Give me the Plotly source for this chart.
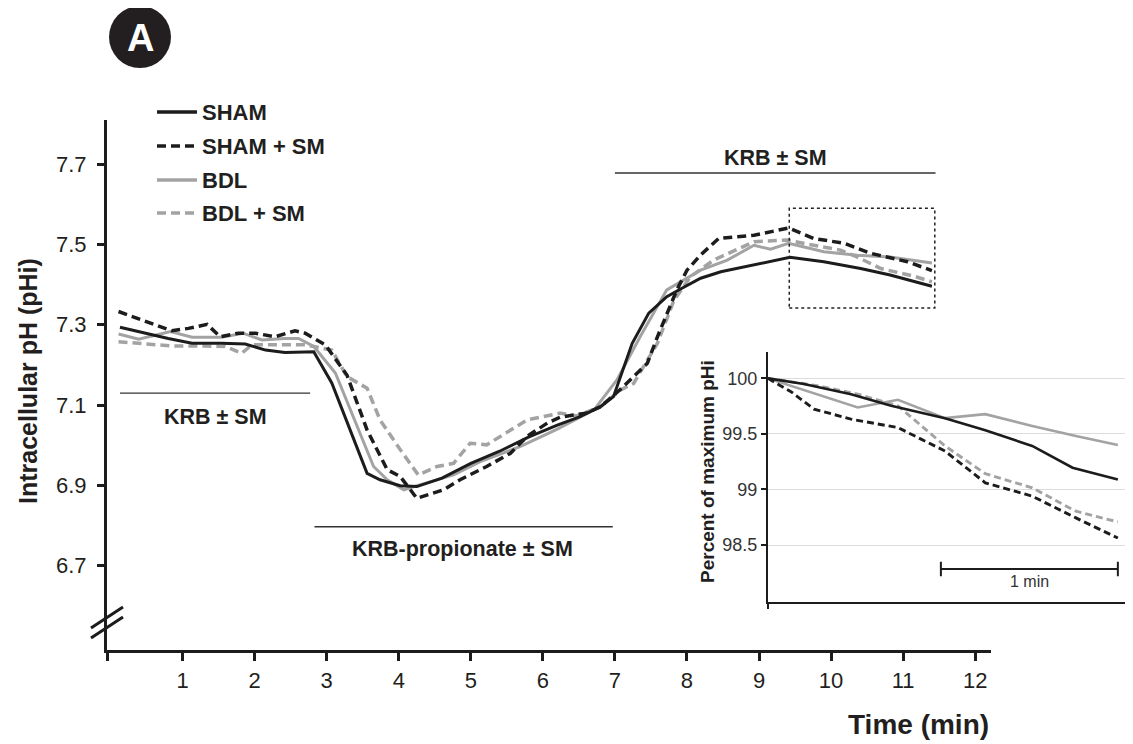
import plotly.graph_objects as go

# ---------------- data ----------------
SHAM_T = [0.13, 0.39, 0.80, 1.13, 1.54, 1.87, 2.15, 2.42, 2.70, 2.82, 3.07, 3.56, 3.74, 4.02, 4.25,
          4.60, 5.00, 5.40, 5.80, 6.20, 6.50, 6.80, 6.98, 7.24, 7.47, 7.72, 7.93, 8.19, 8.47, 8.93,
          9.43, 9.90, 10.41, 10.82, 11.15, 11.40]
SHAM_PH = [7.294, 7.283, 7.266, 7.254, 7.254, 7.252, 7.237, 7.231, 7.233, 7.233, 7.155, 6.930, 6.914,
           6.899, 6.897, 6.918, 6.955, 6.985, 7.020, 7.050, 7.070, 7.096, 7.121, 7.254, 7.329, 7.370,
           7.391, 7.416, 7.432, 7.449, 7.468, 7.457, 7.440, 7.424, 7.407, 7.396]

SHAM_SM_T = [0.11, 0.48, 0.85, 1.08, 1.34, 1.52, 1.77, 2.01, 2.28, 2.56, 2.70, 2.98, 3.28, 3.56, 3.84,
             4.02, 4.25, 4.62, 4.85, 5.22, 5.55, 5.78, 6.06, 6.24, 6.60, 6.80, 7.07, 7.45, 7.59, 7.86,
             8.00, 8.19, 8.44, 8.93, 9.41, 9.76, 10.18, 10.55, 11.06, 11.40]
SHAM_SM_PH = [7.333, 7.308, 7.285, 7.291, 7.301, 7.270, 7.279, 7.279, 7.270, 7.285, 7.279, 7.250, 7.175,
              7.038, 6.939, 6.922, 6.868, 6.889, 6.914, 6.947, 6.980, 7.022, 7.055, 7.070, 7.080, 7.096,
              7.138, 7.204, 7.270, 7.387, 7.436, 7.474, 7.515, 7.523, 7.541, 7.515, 7.503, 7.478, 7.457,
              7.435]

BDL_T = [0.11, 0.39, 0.83, 1.13, 1.54, 1.84, 2.10, 2.42, 2.61, 2.82, 3.12, 3.65, 3.84, 4.07, 4.30, 4.76,
         5.13, 5.69, 6.20, 6.71, 7.03, 7.35, 7.72, 7.96, 8.19, 8.56, 8.93, 9.16, 9.41, 9.90, 10.36, 10.82,
         11.40]
BDL_PH = [7.277, 7.264, 7.283, 7.269, 7.269, 7.279, 7.262, 7.266, 7.266, 7.246, 7.180, 6.947, 6.914,
          6.889, 6.902, 6.926, 6.959, 6.997, 7.040, 7.088, 7.163, 7.270, 7.387, 7.411, 7.436, 7.461,
          7.498, 7.488, 7.503, 7.482, 7.473, 7.469, 7.454]

BDL_SM_T = [0.11, 0.39, 0.85, 1.31, 1.59, 1.82, 1.96, 2.42, 2.70, 3.07, 3.28, 3.56, 3.74, 4.02, 4.27,
            4.53, 4.76, 4.99, 5.22, 5.78, 6.24, 6.47, 6.80, 7.08, 7.26, 7.59, 7.82, 8.05, 8.37, 8.93,
            9.39, 9.76, 10.13, 10.36, 10.69, 11.15, 11.40]
BDL_SM_PH = [7.258, 7.254, 7.247, 7.247, 7.246, 7.229, 7.250, 7.250, 7.250, 7.237, 7.171, 7.142, 7.063,
             6.989, 6.926, 6.947, 6.955, 7.005, 7.001, 7.063, 7.080, 7.073, 7.096, 7.138, 7.154, 7.254,
             7.361, 7.420, 7.461, 7.507, 7.511, 7.498, 7.486, 7.469, 7.440, 7.421, 7.407]

# inset: percent of maximum pHi over the last ~2 min
SHAM_IN_T = [0, 0.203, 0.469, 0.696, 1.0, 1.228, 1.493, 1.721, 1.977]
SHAM_IN = [100, 99.949, 99.858, 99.753, 99.642, 99.533, 99.392, 99.196, 99.09]
SHAM_SM_IN_T = [0, 0.13, 0.26, 0.469, 0.734, 1.0, 1.228, 1.493, 1.74, 1.977]
SHAM_SM_IN = [100, 99.88, 99.723, 99.633, 99.557, 99.346, 99.06, 98.94, 98.744, 98.563]
BDL_IN_T = [0, 0.279, 0.507, 0.734, 1.0, 1.228, 1.493, 1.74, 1.977]
BDL_IN = [100, 99.858, 99.738, 99.807, 99.642, 99.678, 99.572, 99.482, 99.40]
BDL_SM_IN_T = [0, 0.279, 0.507, 0.734, 1.0, 1.228, 1.493, 1.74, 1.977]
BDL_SM_IN = [100, 99.934, 99.858, 99.753, 99.392, 99.142, 99.015, 98.804, 98.708]

X_TICKS = [1, 2, 3, 4, 5, 6, 7, 8, 9, 10, 11, 12]
Y_TICKS = [6.7, 6.9, 7.1, 7.3, 7.5, 7.7]
INSET_Y_TICKS = [98.5, 99, 99.5, 100]
INSET_Y_LABELS = ["98.5", "99", "99.5", "100"]

# solution periods (start, end, level, label, label x, label y)
PERIODS = [
    (0.13, 2.77, 7.13, "KRB ± SM", 1.45, 7.071),
    (2.83, 6.97, 6.797, "KRB-propionate ± SM", 4.88, 6.742),
    (7.00, 11.45, 7.678, "KRB ± SM", 9.23, 7.715),
]
ZOOM_BOX = [9.42, 11.44, 7.342, 7.59]
SCALE_BAR = [0.977, 1.977, 98.285]

LEGEND_NAMES = ["SHAM", "SHAM + SM", "BDL", "BDL + SM"]

# ---------------- styling ----------------
BLACK = "#1c1c1c"
GRAY = "#a3a3a3"
TXT = "#231f20"
FONT = "Liberation Sans, Arial, sans-serif"
OFF = 8                       # page offset of the figure (body margin)
W, H = 1133 - OFF, 744 - OFF
# plot area in page pixels
PL, PR, PT, PB = 107, 1133, 120, 650
ML, MR, MT, MB = PL - OFF, OFF + W - PR, PT - OFF, OFF + H - PB
PW, PH = PR - PL, PB - PT


def xp(px):
    return (px - PL) / PW


def yp(py):
    return (PB - py) / PH


styles = {
    "SHAM": dict(color=BLACK, dash="solid", width=3),
    "SHAM + SM": dict(color=BLACK, dash="9px,5px", width=3.5),
    "BDL": dict(color=GRAY, dash="solid", width=3),
    "BDL + SM": dict(color=GRAY, dash="9px,5px", width=3.5),
}
inset_styles = {
    "SHAM": dict(color=BLACK, dash="solid", width=2.6),
    "SHAM + SM": dict(color=BLACK, dash="7px,4px", width=2.9),
    "BDL": dict(color=GRAY, dash="solid", width=2.6),
    "BDL + SM": dict(color=GRAY, dash="7px,4px", width=2.9),
}

fig = go.Figure()

main_series = [("BDL + SM", BDL_SM_T, BDL_SM_PH), ("BDL", BDL_T, BDL_PH),
               ("SHAM + SM", SHAM_SM_T, SHAM_SM_PH), ("SHAM", SHAM_T, SHAM_PH)]
for name, t, v in main_series:
    fig.add_trace(go.Scatter(x=t, y=v, mode="lines", name=name, line=styles[name],
                             showlegend=False, xaxis="x", yaxis="y"))

inset_series = [("BDL + SM", BDL_SM_IN_T, BDL_SM_IN), ("BDL", BDL_IN_T, BDL_IN),
                ("SHAM + SM", SHAM_SM_IN_T, SHAM_SM_IN), ("SHAM", SHAM_IN_T, SHAM_IN)]
for name, t, v in inset_series:
    fig.add_trace(go.Scatter(x=t, y=v, mode="lines", name=name, line=inset_styles[name],
                             showlegend=False, xaxis="x2", yaxis="y2"))

shapes = []
annotations = []


def label(x, y, text, size, xanchor="center", color=TXT, angle=0, xref="paper", yref="paper"):
    annotations.append(dict(xref=xref, yref=yref, x=x, y=y, text=text, showarrow=False,
                            xanchor=xanchor, yanchor="middle", textangle=angle,
                            font=dict(size=size, color=color, family=FONT)))


# period bars and labels
for x0, x1, lvl, lab, lx, ly in PERIODS:
    shapes.append(dict(type="line", xref="x", yref="y", x0=x0, x1=x1, y0=lvl, y1=lvl,
                       line=dict(color="#333333", width=1.3)))
    label(lx, ly, f"<b>{lab}</b>", 21.5, xref="x", yref="y")

# dotted zoom box
shapes.append(dict(type="rect", xref="x", yref="y", x0=ZOOM_BOX[0], x1=ZOOM_BOX[1],
                   y0=ZOOM_BOX[2], y1=ZOOM_BOX[3], line=dict(color="#222222", width=1.5, dash="dot")))

# axis break marks
for off in (0, 10):
    shapes.append(dict(type="line", xref="paper", yref="paper", x0=xp(91), x1=xp(123),
                       y0=yp(628 + off), y1=yp(607 + off), line=dict(color=BLACK, width=3)))

# scale bar in inset
sb0, sb1, sby = SCALE_BAR
shapes.append(dict(type="line", xref="x2", yref="y2", x0=sb0, x1=sb1, y0=sby, y1=sby,
                   line=dict(color=BLACK, width=2)))
for sx in (sb0, sb1):
    shapes.append(dict(type="line", xref="x2", yref="y2", x0=sx, x1=sx, y0=sby - 0.065, y1=sby + 0.065,
                       line=dict(color=BLACK, width=2)))
label((sb0 + sb1) / 2, sby - 0.115, "1 min", 16, color="#333333", xref="x2", yref="y2")

# legend (manual)
leg_y = [112, 146, 180, 213]
for name, py in zip(LEGEND_NAMES, leg_y):
    st = styles[name]
    shapes.append(dict(type="line", xref="paper", yref="paper", x0=xp(157), x1=xp(197),
                       y0=yp(py), y1=yp(py),
                       line=dict(color=st["color"], width=3.5,
                                 dash="solid" if st["dash"] == "solid" else "9px,5px")))
    label(xp(200), yp(py), f"<b>{name}</b>", 22, xanchor="left")

# panel badge
shapes.append(dict(type="circle", xref="paper", yref="paper", x0=xp(109), x1=xp(171),
                   y0=yp(68), y1=yp(6), fillcolor=TXT, line=dict(color=TXT, width=0)))
label(xp(140), yp(38), "<b>A</b>", 38, color="white")

# axis titles
label(xp(28), yp(381), "<b>Intracellular pH (pHi)</b>", 25, angle=-90)
label(xp(918), yp(724), "<b>Time (min)</b>", 28)
label(xp(707), yp(472), "<b>Percent of maximum pHi</b>", 19, angle=-90)

fig.update_layout(
    width=W, height=H,
    margin=dict(l=ML, r=MR, t=MT, b=MB, pad=0),
    paper_bgcolor="white", plot_bgcolor="rgba(0,0,0,0)",
    font=dict(family=FONT, color=TXT),
    showlegend=False,
    xaxis=dict(domain=[0, xp(991)], range=[-0.05, 12.22], tickvals=[-0.05] + X_TICKS,
               ticktext=[""] + [str(v) for v in X_TICKS], ticks="outside", ticklen=8, tickwidth=2.5,
               tickcolor=BLACK, showline=True, linewidth=3.2, linecolor=BLACK, showgrid=False,
               zeroline=False, tickfont=dict(size=22, color=TXT, family=FONT), anchor="y"),
    yaxis=dict(domain=[0, 1], range=[6.49, 7.81], tickvals=Y_TICKS,
               ticktext=[f"{v:.1f}" for v in Y_TICKS], ticks="outside", ticklen=7, tickwidth=2.5,
               tickcolor=BLACK, showline=True, linewidth=3.2, linecolor=BLACK, showgrid=False,
               zeroline=False, tickfont=dict(size=22, color=TXT, family=FONT), anchor="x",
               ticklabelstandoff=6),
    xaxis2=dict(domain=[xp(768), xp(1126)], range=[0, 2.023], tickvals=[0], ticktext=[""],
                ticks="outside", ticklen=5, tickwidth=1.5, tickcolor=BLACK, showline=True,
                linewidth=2, linecolor=BLACK, showgrid=False, zeroline=False, anchor="y2"),
    yaxis2=dict(domain=[yp(601.7), yp(351.7)], range=[97.99, 100.24], tickvals=INSET_Y_TICKS,
                ticktext=INSET_Y_LABELS, ticks="outside", ticklen=5, tickwidth=1.5, tickcolor=BLACK,
                showline=True, linewidth=2, linecolor=BLACK, showgrid=True, gridcolor="#dcdcdc",
                gridwidth=1, zeroline=False, tickfont=dict(size=18, color="#333333", family=FONT),
                anchor="x2"),
    shapes=shapes,
    annotations=annotations,
)

fig.write_html("out.html")
